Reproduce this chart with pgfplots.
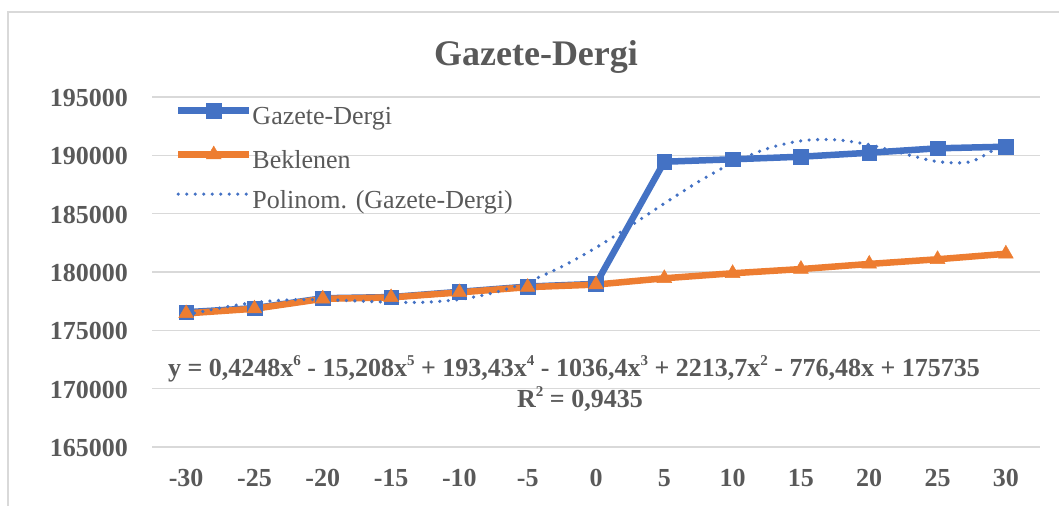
\documentclass[border=0pt]{standalone}
\usepackage{fontspec}
\setmainfont{Liberation Serif}
\usepackage{pgfplots}
\pgfplotsset{compat=1.18}
\definecolor{txt}{HTML}{595959}
\definecolor{grd}{HTML}{D9D9D9}
\definecolor{cblue}{HTML}{4472C4}
\definecolor{corange}{HTML}{ED7D31}
\newcommand{\sps}[1]{\raisebox{0.42em}{\fontsize{15bp}{15bp}\selectfont #1}}
\begin{document}
\begin{tikzpicture}[x=1bp,y=1bp]
\useasboundingbox (0,0) rectangle (1059,506);
\draw[grd, line width=1.3bp] (8,-5) -- (8,494) -- (1070,494);
\begin{axis}[
  at={(152bp,59bp)}, anchor=south west,
  scale only axis, width=888bp, height=350bp,
  xmin=-0.5, xmax=12.5, ymin=165000, ymax=195000,
  xtick={0,...,12},
  xticklabels={-30,-25,-20,-15,-10,-5,0,5,10,15,20,25,30},
  ytick={165000,170000,175000,180000,185000,190000,195000},
  scaled y ticks=false,
  yticklabel={\pgfmathprintnumber[fixed,precision=0,1000 sep={}]{\tick}},
  ymajorgrids, major grid style={grd, line width=1.3bp},
  axis line style={draw=none},
  major tick length=0pt,
  tick label style={font=\bfseries\fontsize{26bp}{30bp}\selectfont, text=txt, inner sep=0pt},
  xticklabel style={anchor=base, yshift=-40bp},
  yticklabel style={anchor=base east, xshift=-24bp, yshift=-9.5bp},
  /pgf/number format/.cd, 1000 sep={}, assume math mode=true, /pgfplots/.cd,
  legend style={at={(0.0259,0.982)}, anchor=north west, draw=none, fill=none,
    inner sep=0pt, outer sep=0pt, font=\fontsize{26bp}{30bp}\selectfont, text=txt,
    row sep=16.5bp, column sep=0bp,
    nodes={inner sep=0pt, text height=18bp, text depth=5bp}},
  legend cell align=left,
  legend image code/.code={\draw[mark repeat=2,mark phase=2] plot coordinates {(0bp,7.5bp) (35.5bp,7.5bp) (71bp,7.5bp)};},
]
\addplot[cblue, line width=6.5bp, mark=square*, mark size=7.3bp, mark options={line width=0.5bp, solid}] coordinates {
(0,176550) (1,176900) (2,177750) (3,177850) (4,178300) (5,178750) (6,178980)
(7,189450) (8,189660) (9,189880) (10,190220) (11,190600) (12,190740)};
\addlegendentry{Gazete-Dergi}
\addplot[corange, line width=6.5bp, mark=triangle*, mark size=8.5bp, mark options={line width=0.5bp, solid}] coordinates {
(0,176450) (1,176850) (2,177700) (3,177820) (4,178250) (5,178700) (6,178920)
(7,179460) (8,179890) (9,180250) (10,180690) (11,181090) (12,181560)};
\addlegendentry{Beklenen}
\addplot[cblue, line width=3.6bp, dash pattern=on 0bp off 8.5bp, line cap=round, smooth, mark=none] coordinates {
(0,176314.5) (0.5,176921.8) (1,177381.1) (1.5,177610.1) (2,177628.0) (2.5,177519.4)
(3,177403.8) (3.5,177409.0) (4,177651.4) (4.5,178217.4) (5,179154.3) (5.5,180460.9)
(6,182087.6) (6.5,183937.7) (7,185875.5) (7.5,187738.2) (8,189354.0) (8.5,190561.7)
(9,191240.2) (9.5,191337.1) (10,190907.2) (10.5,190151.6) (11,189464.3) (11.5,189483.4)
(12,191144.0)};
\addlegendentry{Polinom. (Gazete-Dergi)}
\end{axis}
\node[anchor=base, font=\bfseries\fontsize{36bp}{40bp}\selectfont, text=txt, inner sep=0pt] at (536,440) {Gazete-Dergi};
\node[anchor=base, font=\bfseries\fontsize{26bp}{30bp}\selectfont, text=txt, inner sep=0pt] at (574,129.3) {y = 0,4248x\sps{6} - 15,208x\sps{5} + 193,43x\sps{4} - 1036,4x\sps{3} + 2213,7x\sps{2} - 776,48x + 175735};
\node[anchor=base, font=\bfseries\fontsize{26bp}{30bp}\selectfont, text=txt, inner sep=0pt] at (580,98.7) {R\sps{2} = 0,9435};
\end{tikzpicture}
\end{document}
